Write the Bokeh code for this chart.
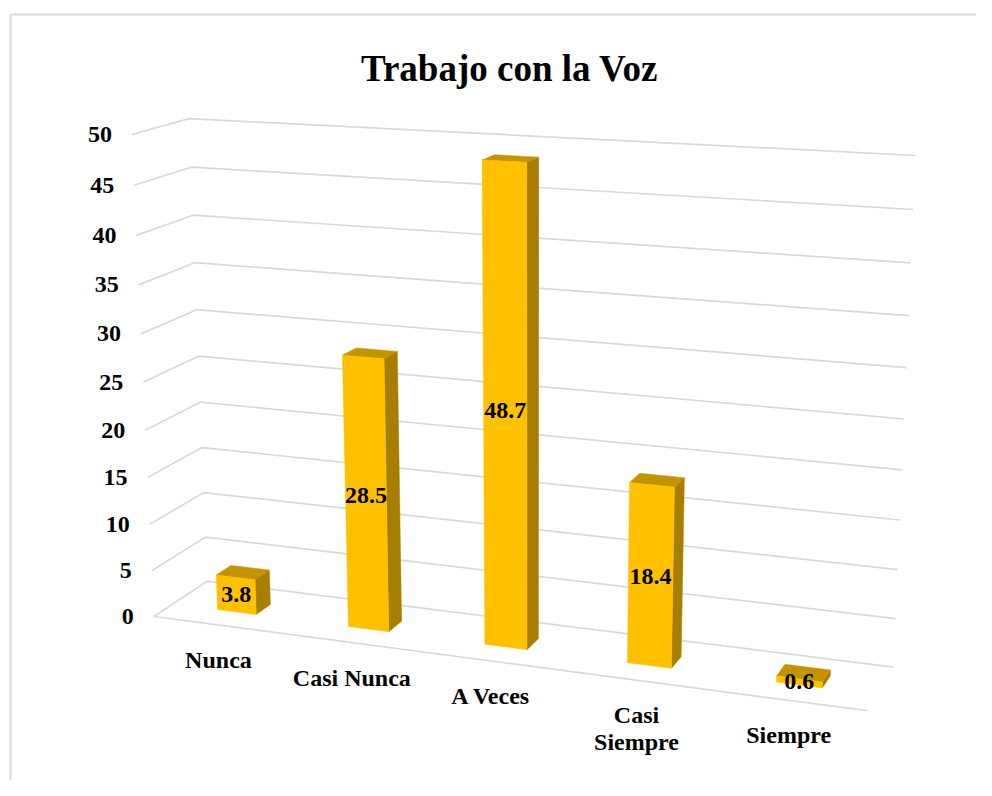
import numpy as np
from bokeh.plotting import figure
from bokeh.models import Range1d
from bokeh.core.properties import value
from bokeh.embed import file_html
from bokeh.resources import INLINE

# ---------------- data ----------------
chart_title = "Trabajo con la Voz"
categories = ["Nunca", "Casi Nunca", "A Veces", "Casi\nSiempre", "Siempre"]
values = [3.8, 28.5, 48.7, 18.4, 0.6]
value_labels = ["3.8", "28.5", "48.7", "18.4", "0.6"]
y_ticks = [0, 5, 10, 15, 20, 25, 30, 35, 40, 45, 50]
y_tick_labels = ["0", "5", "10", "15", "20", "25", "30", "35", "40", "45", "50"]

# ---------------- 3-D view (Excel-like perspective) ----------------
# world: X = category slot (0..5), Y = value (0..50), Z = depth (0 front .. 1 back)
# calibration of the view box corners -> page pixels
calib_world = [
    (0, 50, 0), (0, 45, 0), (0, 40, 0), (0, 35, 0), (0, 30, 0), (0, 25, 0),
    (0, 20, 0), (0, 15, 0), (0, 10, 0), (0, 5, 0), (0, 0, 0),
    (0, 50, 1), (0, 45, 1), (0, 40, 1), (0, 35, 1), (0, 30, 1),
    (0, 20, 1), (0, 15, 1), (0, 10, 1), (0, 5, 1), (0, 0, 1),
    (5, 50, 1), (5, 45, 1), (5, 5, 1), (5, 0, 1), (5, 0, 0),
]
calib_screen = [
    (132, 134), (133, 185), (136, 235), (138, 284), (141, 333), (143, 382),
    (145, 430), (147, 477), (149, 524), (151, 570), (153, 616),
    (188, 117), (190, 167), (192, 215), (195, 263), (197, 309),
    (200, 402), (202, 447), (203, 492), (205, 537), (206, 580),
    (915, 155), (913, 209), (895, 618), (893, 667), (867, 710),
]
N_SLOTS = len(categories)
BAR_W = 0.30
Z0, Z1 = 0.35, 0.63


def _norm(pts):
    pts = np.asarray(pts, float)
    c = pts.mean(0)
    d = np.sqrt(((pts - c) ** 2).sum(1)).mean()
    s = np.sqrt(pts.shape[1]) / d
    T = np.eye(pts.shape[1] + 1)
    T[:-1, :-1] *= s
    T[:-1, -1] = -s * c
    return T


Wp = np.array(calib_world, float)
Sp = np.array(calib_screen, float)
Tw, Ts = _norm(Wp), _norm(Sp)
Wn = (Tw @ np.c_[Wp, np.ones(len(Wp))].T).T
Sn = (Ts @ np.c_[Sp, np.ones(len(Sp))].T).T
rows = []
for (X, Y, Z, _), (u, v, _) in zip(Wn, Sn):
    rows.append([X, Y, Z, 1, 0, 0, 0, 0, -u * X, -u * Y, -u * Z, -u])
    rows.append([0, 0, 0, 0, X, Y, Z, 1, -v * X, -v * Y, -v * Z, -v])
_, _, Vt = np.linalg.svd(np.array(rows))
P = np.linalg.inv(Ts) @ Vt[-1].reshape(3, 4) @ Tw


def proj(X, Y, Z):
    h = P @ np.array([X, Y, Z, 1.0])
    return h[0] / h[2], h[1] / h[2]


# ---------------- figure (data units == page pixels) ----------------
W, H = 976, 780
p = figure(width=W, height=H, x_range=Range1d(0, W), y_range=Range1d(H, 0),
           title=None, toolbar_location=None, output_backend="svg", min_border=0,
           x_axis_location=None, y_axis_location=None)
p.grid.visible = False
p.outline_line_color = None
p.background_fill_color = "white"
p.border_fill_color = "white"

FONT = value("Liberation Serif")
GRID = "#d9d9d9"

# chart frame
p.multi_line(xs=[[10, 10], [10, W]], ys=[[H, 14], [14, 14]],
             line_color="#d9d9d9", line_width=2)

# gridlines: side wall + back wall
gx, gy = [], []
for t in y_ticks:
    a = proj(0, t, 0)
    b = proj(0, t, 1)
    c = proj(N_SLOTS, t, 1)
    gx.append([a[0], b[0], c[0]])
    gy.append([a[1], b[1], c[1]])
# floor front edge
a = proj(0, 0, 0)
b = proj(N_SLOTS, 0, 0)
gx.append([a[0], b[0]])
gy.append([a[1], b[1]])
p.multi_line(xs=gx, ys=gy, line_color=GRID, line_width=1.7)

# bars
side_x, side_y, top_x, top_y, front_x, front_y = [], [], [], [], [], []
for i, v in enumerate(values):
    x0 = i + 0.5 - BAR_W / 2
    x1 = i + 0.5 + BAR_W / 2
    fr = [proj(x0, 0, Z0), proj(x1, 0, Z0), proj(x1, v, Z0), proj(x0, v, Z0)]
    sd = [proj(x1, 0, Z0), proj(x1, 0, Z1), proj(x1, v, Z1), proj(x1, v, Z0)]
    tp = [proj(x0, v, Z0), proj(x1, v, Z0), proj(x1, v, Z1), proj(x0, v, Z1)]
    front_x.append([q[0] for q in fr]); front_y.append([q[1] for q in fr])
    side_x.append([q[0] for q in sd]); side_y.append([q[1] for q in sd])
    top_x.append([q[0] for q in tp]); top_y.append([q[1] for q in tp])

p.patches(xs=side_x, ys=side_y, fill_color="#a87e00", line_color="#a87e00", line_width=0.5)
p.patches(xs=top_x, ys=top_y, fill_color="#c49300", line_color="#c49300", line_width=0.5)
p.patches(xs=front_x, ys=front_y, fill_color="#ffc000", line_color="#ffc000", line_width=0.5)

# value labels (centre of front face)
lx, ly = [], []
for i, v in enumerate(values):
    q = proj(i + 0.5, v / 2, Z0)
    lx.append(q[0]); ly.append(q[1])
p.text(x=lx, y=ly, text=value_labels, text_font=FONT, text_font_style="bold",
       text_font_size="24px", text_align="center", text_baseline="middle",
       text_color="black")

# y tick labels
tx, ty = [], []
for t in y_ticks:
    q = proj(0, t, 0)
    tx.append(q[0] - 20); ty.append(q[1])
p.text(x=tx, y=ty, text=y_tick_labels, text_font=FONT, text_font_style="bold",
       text_font_size="24px", text_align="right", text_baseline="middle",
       text_color="black")

# category labels
cx, cy, ct = [], [], []
for i, lab in enumerate(categories):
    q = proj(i + 0.5, 0, 0)
    for k, line in enumerate(lab.split("\n")):
        cx.append(q[0]); cy.append(q[1] + 35 + 27 * k); ct.append(line)
p.text(x=cx, y=cy, text=ct, text_font=FONT, text_font_style="bold",
       text_font_size="24px", text_align="center", text_baseline="alphabetic",
       text_color="black")

# title
p.text(x=[509], y=[68], text=[chart_title], text_font=FONT, text_font_style="bold",
       text_font_size="37px", text_align="center", text_baseline="alphabetic",
       text_color="black")

open("out.html", "w").write(file_html(p, INLINE))
